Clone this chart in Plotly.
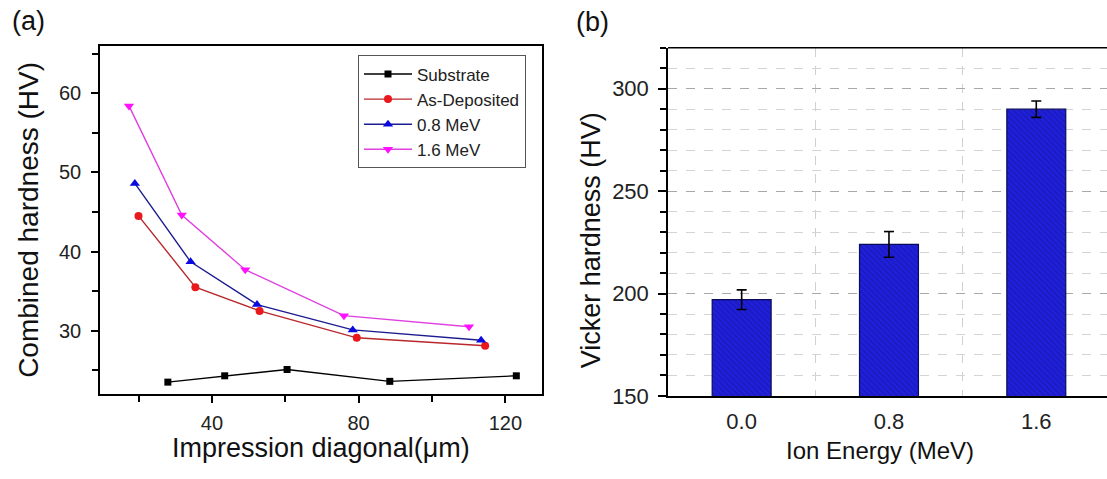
import plotly.graph_objects as go

# ---- panel (a): combined hardness vs impression diagonal ----
substrate_d = [28.0, 43.5, 60.5, 88.5, 123.0]
substrate_hv = [23.5, 24.3, 25.1, 23.6, 24.3]

asdep_d = [20.0, 35.5, 53.0, 79.5, 114.5]
asdep_hv = [44.5, 35.5, 32.5, 29.1, 28.1]

mev08_d = [19.0, 34.2, 52.3, 78.4, 113.4]
mev08_hv = [48.6, 38.7, 33.3, 30.1, 28.8]

mev16_d = [17.4, 31.8, 49.1, 76.0, 110.1]
mev16_hv = [58.4, 44.6, 37.7, 31.9, 30.5]

# ---- panel (b): Vickers hardness vs ion energy ----
ion_energy = [0.0, 0.8, 1.6]
vickers_hv = [197, 224, 290]
vickers_err = [4.8, 6.3, 4.0]

FONT = "Liberation Sans, Arial, sans-serif"
W, H = 1107, 479


def px_x(x):
    return x / W


def px_y(y):
    return 1 - y / H


fig = go.Figure()

series = [
    ("Substrate", substrate_d, substrate_hv, "#000000", "#000000", "square", 7),
    ("As-Deposited", asdep_d, asdep_hv, "#b8282c", "#e8181c", "circle", 8),
    ("0.8 MeV", mev08_d, mev08_hv, "#1c1c90", "#0a0ae0", "triangle-up", 9),
    ("1.6 MeV", mev16_d, mev16_hv, "#e040e0", "#ff10ff", "triangle-down", 9),
]
for name, xs, ys, lc, mc, sym, ms in series:
    fig.add_trace(go.Scatter(
        x=xs, y=ys, name=name, mode="lines+markers",
        line=dict(color=lc, width=1.4),
        marker=dict(color=mc, symbol=sym, size=ms, line=dict(width=0)),
        xaxis="x", yaxis="y",
    ))

fig.add_trace(go.Bar(
    x=ion_energy, y=vickers_hv, width=0.32, showlegend=False,
    marker=dict(
        color="#2020dc",
        line=dict(color="#0a0a5a", width=1.2),
        pattern=dict(shape="\\", fgcolor="#12128a", size=4, solidity=0.3),
    ),
    error_y=dict(type="data", array=vickers_err, color="#000000",
                 thickness=1.6, width=5),
    xaxis="x2", yaxis="y2",
))

axis_common = dict(
    showline=True, linecolor="#000000", linewidth=1.5,
    zeroline=False,
)
tick_a = dict(family=FONT, size=20, color="#222222")
tick_b = dict(family=FONT, size=22, color="#222222")

fig.update_layout(
    width=W, height=H,
    margin=dict(l=0, r=0, t=0, b=0),
    paper_bgcolor="white", plot_bgcolor="white",
    font=dict(family=FONT, color="#222222"),
    xaxis=dict(
        domain=[px_x(100), px_x(542)], range=[9.5, 130],
        tickvals=[40, 80, 120], ticks="outside", ticklen=7, tickwidth=1.5,
        tickcolor="#000000", mirror=True, showgrid=False,
        minor=dict(tickvals=[20, 60, 100], ticks="outside", ticklen=6,
                   tickwidth=1.5, tickcolor="#000000", showgrid=False),
        ticklabelstandoff=3, tickfont=tick_a,
        anchor="y", **axis_common,
    ),
    yaxis=dict(
        domain=[px_y(405), px_y(47)], range=[22, 66],
        tickvals=[30, 40, 50, 60], ticks="outside", ticklen=7, tickwidth=1.5,
        tickcolor="#000000", mirror=True, showgrid=False,
        minor=dict(tickvals=[25, 35, 45, 55, 65], ticks="outside", ticklen=6,
                   tickwidth=1.5, tickcolor="#000000", showgrid=False),
        ticklabelstandoff=6, tickfont=tick_a,
        anchor="x", **axis_common,
    ),
    xaxis2=dict(
        domain=[px_x(668), 1.0], range=[-0.4, 1.984],
        tickvals=ion_energy, tickformat=".1f", ticks="",
        showgrid=False, mirror=False,
        minor=dict(tick0=0.4, dtick=0.8, showgrid=True, gridcolor="#d0d0d0",
                   griddash="dash", gridwidth=1, ticks=""),
        ticklabelstandoff=5, tickfont=tick_b,
        anchor="y2", **axis_common,
    ),
    yaxis2=dict(
        domain=[px_y(407), px_y(49)], range=[150, 320],
        tickvals=[150, 200, 250, 300], ticks="outside", ticklen=8,
        tickwidth=1.5, tickcolor="#000000", mirror=False,
        showgrid=True, gridcolor="#a8a8a8", griddash="dash", gridwidth=1,
        minor=dict(dtick=10, tick0=150, ticks="outside", ticklen=6,
                   tickwidth=1.5, tickcolor="#000000", showgrid=True,
                   gridcolor="#d4d4d4", griddash="dash", gridwidth=1),
        ticklabelstandoff=5, tickfont=tick_b,
        anchor="x2", **axis_common,
    ),
    legend=dict(
        x=px_x(358), y=px_y(57), xanchor="left", yanchor="top",
        bordercolor="#555555", borderwidth=1, bgcolor="white",
        font=dict(family=FONT, size=17, color="#222222"),
        tracegroupgap=0, itemwidth=48,
    ),
    barmode="overlay",
)

# top border of panel (b) (left/bottom come from the axes)
fig.add_shape(type="line", xref="paper", yref="paper",
              x0=px_x(668), x1=1.0, y0=px_y(49), y1=px_y(49),
              line=dict(color="#000000", width=1.5))

labels = [
    ("(a)", 28, 22, 27, 0),
    ("(b)", 592, 23, 27, 0),
    ("Combined hardness (HV)", 29, 226, 28, -90),
    ("Impression diagonal(\u03bcm)", 321, 461, 27, 0),
    ("Vicker hardness (HV)", 591, 247, 27, -90),
    ("Ion Energy (MeV)", 880, 463, 24, 0),
]
for text, cx, cy, size, ang in labels:
    fig.add_annotation(
        text=text, x=px_x(cx), y=px_y(cy), xref="paper", yref="paper",
        xanchor="center", yanchor="middle", showarrow=False, textangle=ang,
        font=dict(family=FONT, size=size, color="#111111"),
    )

fig.write_html("out.html")
